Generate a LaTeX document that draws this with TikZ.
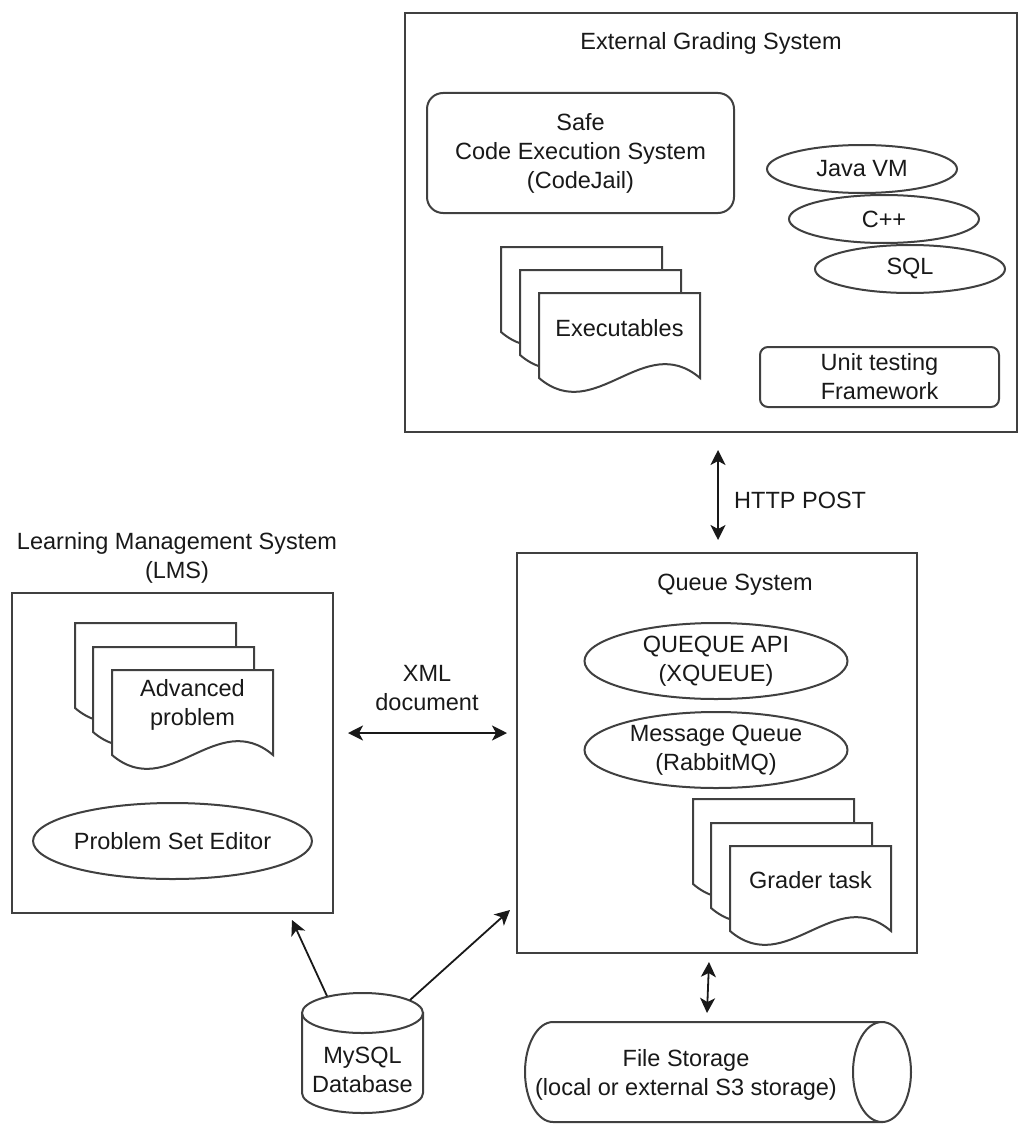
\documentclass[tikz,border=0pt]{standalone}
\usepackage{fontspec}
\setmainfont{Liberation Sans}
\usetikzlibrary{arrows.meta,shapes.geometric}
\newcommand\docpage[2]{\draw[shp] (#1,#2) -- (#1+161,#2) -- (#1+161,#2+85) .. controls (#1+104.6,#2+37) and (#1+56.4,#2+133) .. (#1,#2+85) -- cycle;}
\begin{document}
\begin{tikzpicture}[x=1pt,y=-1pt,
  every node/.style={font=\fontsize{23.5}{29}\selectfont, text=black!90, inner sep=0pt, align=center},
  shp/.style={draw=black!75, line width=2pt, fill=white},
  sysbox/.style={shp, rectangle},
  ovalnode/.style={shp, ellipse},
  tipA/.tip={Stealth[length=15pt,width=15pt,inset=4pt]},
  arr/.style={draw=black!90, line width=1.8pt, tipA-tipA},
  onearr/.style={draw=black!90, line width=1.8pt, -tipA}
]
\useasboundingbox (0,0) rectangle (1020,1126);

% External Grading System
\node[sysbox, minimum width=612, minimum height=419] (ext) at (711,222.5) {};
\node (exttitle) at (711,43) {External Grading System};
\node[sysbox, rounded corners=16pt, minimum width=307, minimum height=120] (safe) at (580.5,153) {Safe\\Code Execution System\\(CodeJail)};
\node[ovalnode, minimum width=190, minimum height=48] (java) at (862,169) {Java VM};
\node[ovalnode, minimum width=190, minimum height=48] (cpp) at (884,219) {C++};
\node[ovalnode, minimum width=190, minimum height=48] (sql) at (910,269) {SQL};
\node[sysbox, rounded corners=8pt, minimum width=239, minimum height=60] (unit) at (879.5,377) {Unit testing\\Framework};
\docpage{501}{247}\docpage{520}{270}\docpage{539}{293}
\node (exe) at (619.5,328) {Executables};

% HTTP POST
\coordinate (h1) at (718,450);
\coordinate (h2) at (718,540);
\draw[arr] (h1) -- (h2);
\node[anchor=west] (http) at (734,500) {HTTP POST};

% LMS
\node (lmstitle) at (177,558) {Learning Management System\\(LMS)};
\node[sysbox, minimum width=321, minimum height=320] (lms) at (172.5,753) {};
\docpage{75}{623}\docpage{93}{647}\docpage{112}{670}
\node (adv) at (192.5,705) {Advanced\\problem};
\node[ovalnode, minimum width=262, minimum height=76] (pse) at (172.5,841) {Problem Set Editor};

% XML document
\node (xml) at (427,688) {XML\\document};
\coordinate (x1) at (348,733);
\coordinate (x2) at (507,733);
\draw[arr] (x1) -- (x2);

% Queue System
\node[sysbox, minimum width=400, minimum height=400] (queue) at (717,753) {};
\node (qtitle) at (735,585) {Queue System};
\node[ovalnode, minimum width=263, minimum height=76] (xq) at (716,661) {QUEQUE API\\(XQUEUE)};
\node[ovalnode, minimum width=263, minimum height=76] (mq) at (716,750) {Message Queue\\(RabbitMQ)};
\docpage{693}{799}\docpage{711}{823}\docpage{730}{846}
\node (grader) at (810.5,880) {Grader task};

% MySQL Database
\draw[shp] (302,1013) -- (302,1093) arc[start angle=180,end angle=0,x radius=60.5,y radius=20] -- (423,1013) -- cycle;
\draw[shp] (362.5,1013) ellipse[x radius=60.5,y radius=20];
\node (mysql) at (362.5,1070) {MySQL\\Database};
\coordinate (d1) at (327,996);
\coordinate (d2) at (292,920);
\coordinate (d3) at (410,1000);
\coordinate (d4) at (510,910);
\draw[onearr] (d1) -- (d2);
\draw[onearr] (d3) -- (d4);

% File Storage
\draw[shp] (882,1022) -- (553,1022) arc[start angle=270,end angle=90,x radius=28,y radius=50] -- (882,1122) -- cycle;
\draw[shp] (882,1072) ellipse[x radius=29,y radius=50];
\node (fs) at (686,1075) {File Storage\\(local or external S3 storage)};
\coordinate (s1) at (709,962);
\coordinate (s2) at (707,1013);
\draw[arr] (s1) -- (s2);
\end{tikzpicture}
\end{document}
